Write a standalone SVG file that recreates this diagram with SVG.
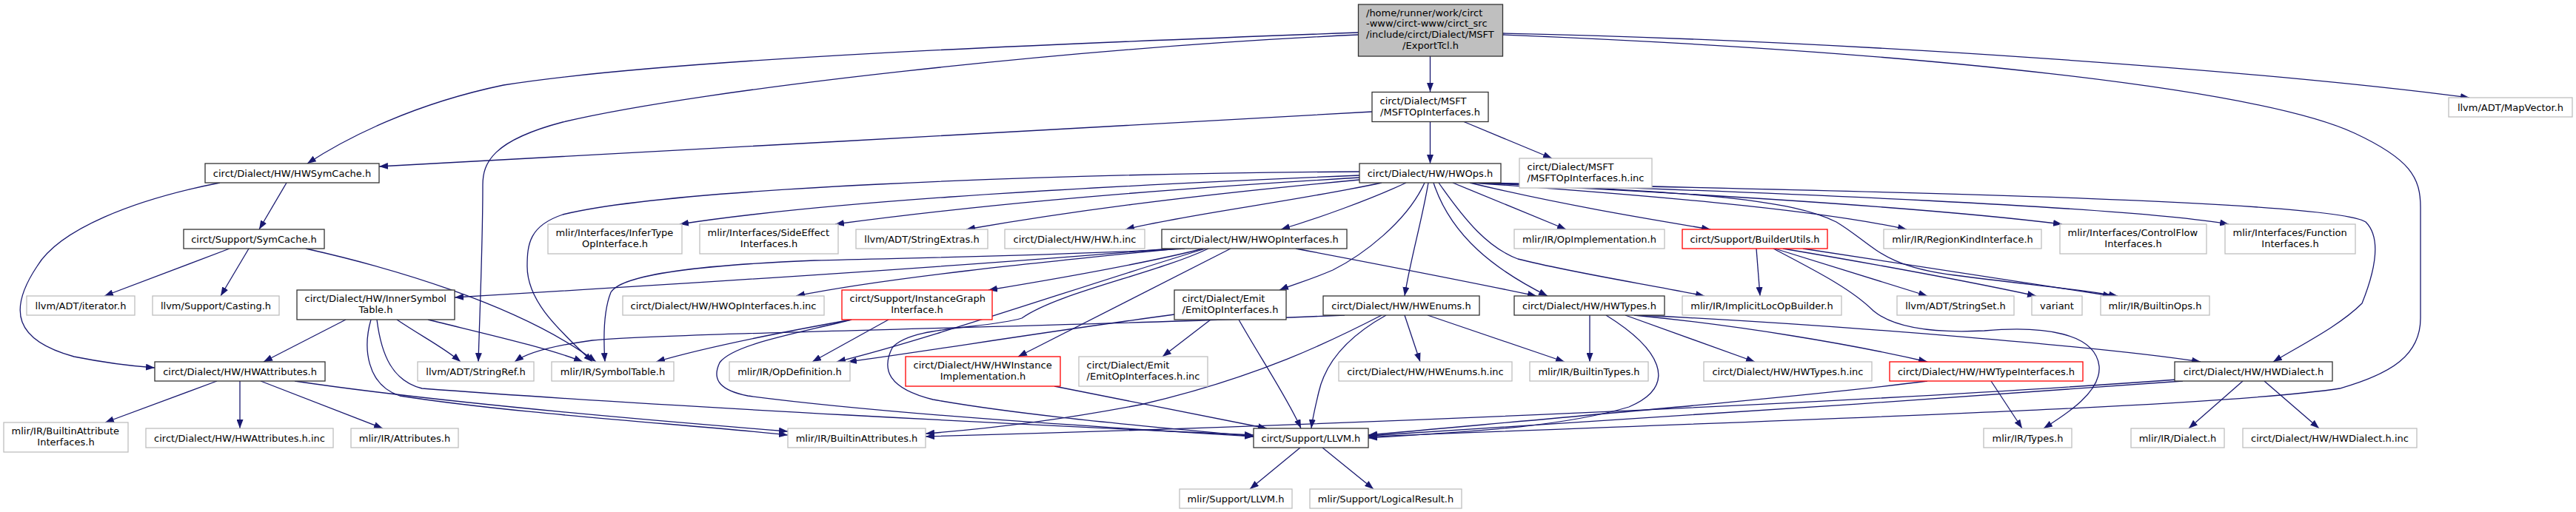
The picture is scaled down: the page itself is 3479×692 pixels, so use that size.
<svg xmlns="http://www.w3.org/2000/svg" width="3479" height="692" viewBox="0 0 3479 692">
<style>
text{font-family:"DejaVu Sans","Liberation Sans",sans-serif;font-size:13px;fill:#000}
.c{text-anchor:middle}
rect{fill:#fff;stroke-width:1.3}
.k{stroke:#333}
.g{stroke:#bfbfbf}
.r{stroke:#ff0000}
.root{fill:#bfbfbf;stroke:#333}
.e{fill:none;stroke:#191970;stroke-width:1.3;marker-end:url(#a)}
</style>
<defs>
<marker id="a" viewBox="0 0 12 9" refX="12" refY="4.5" markerWidth="12" markerHeight="9" markerUnits="userSpaceOnUse" orient="auto">
<path d="M0,0 L12,4.5 L0,9 z" fill="#191970"/>
</marker>
</defs>
<rect x="0" y="0" width="3479" height="692" style="fill:#fff;stroke:none"/>
<g id="edges">
<path class="e" d="M1931.5,76 L1931.5,124"/>
<path class="e" d="M1834,44 C1400,60 900,80 680,115 C560,140 470,185 415,221"/>
<path class="e" d="M1834,47 C1450,65 950,120 760,165 C665,190 652,220 652,250 C652,330 648,420 646,489"/>
<path class="e" d="M2029,45 C2500,55 3050,95 3335,132"/>
<path class="e" d="M2029,47 C2600,70 3050,120 3180,180 C3255,215 3269,240 3269,280 L3269,430 C3269,480 3230,505 3160,525 C3000,550 2400,568 1848,590"/>
<path class="e" d="M1853,151 C1500,170 900,205 512,225"/>
<path class="e" d="M1931.5,164.5 L1931.5,221"/>
<path class="e" d="M1977,164.5 L2096,214"/>
<path class="e" d="M387,247 L350,310"/>
<path class="e" d="M297,247 C180,270 80,310 50,360 C10,420 20,460 100,482 C140,490 180,495 209,497"/>
<path class="e" d="M310,336 L141,400"/>
<path class="e" d="M336,336 L298,400"/>
<path class="e" d="M413,336 C520,360 700,410 805,489"/>
<path class="e" d="M1836,237 C1400,255 1100,275 918,303"/>
<path class="e" d="M1836,240 C1500,260 1300,280 1128,303"/>
<path class="e" d="M1836,243 C1600,265 1450,285 1305,310"/>
<path class="e" d="M1866,247 C1750,272 1600,290 1520,310"/>
<path class="e" d="M1899,247 C1850,270 1780,295 1730,310"/>
<path class="e" d="M1836,232 C1400,235 900,255 760,290 C715,305 712,330 712,360 C712,410 760,450 800,489"/>
<path class="e" d="M1962,247 L2115,310"/>
<path class="e" d="M1985,247 C2100,275 2220,295 2310,310"/>
<path class="e" d="M1988,247 C2200,262 2450,282 2575,310"/>
<path class="e" d="M1992,247 C2300,262 2600,280 2785,303"/>
<path class="e" d="M1995,247 C2400,260 2880,280 3010,303"/>
<path class="e" d="M2000,247 C2500,258 3150,270 3195,300 C3215,320 3210,360 3190,410 C3160,440 3110,465 3070,489"/>
<path class="e" d="M2005,247 C2300,260 2420,270 2480,300 C2530,330 2540,360 2640,372 C2740,385 2800,390 2860,400"/>
<path class="e" d="M1929,247 C1920,300 1905,350 1897,400"/>
<path class="e" d="M1936,247 C1960,320 2020,365 2090,400"/>
<path class="e" d="M1943,247 C1980,300 2010,335 2050,350 C2130,370 2230,385 2302,400"/>
<path class="e" d="M1924,247 C1900,300 1840,345 1800,365 C1770,378 1745,385 1728,392"/>
<path class="e" d="M1750,336 C1850,355 1980,380 2075,400"/>
<path class="e" d="M1581,336 C1300,360 900,385 614,402"/>
<path class="e" d="M1590,336 C1400,355 1200,375 1075,400"/>
<path class="e" d="M1625,336 C1550,355 1420,378 1335,392"/>
<path class="e" d="M1600,336 C1450,345 1250,348 1100,352 C950,358 840,370 825,395 C815,420 815,460 817,489"/>
<path class="e" d="M1632,336 C1560,370 1430,395 1380,430 C1330,445 1230,440 1205,470 C1190,500 1200,525 1260,540 C1400,565 1600,580 1693,590"/>
<path class="e" d="M1628,336 C1450,390 1250,460 1130,489"/>
<path class="e" d="M1662,336 L1375,482"/>
<path class="e" d="M467,432 L356,489"/>
<path class="e" d="M536,432 C570,455 600,470 622,489"/>
<path class="e" d="M578,432 C650,450 740,470 787,489"/>
<path class="e" d="M501,432 C490,470 495,520 540,535 C700,560 950,575 1064,588"/>
<path class="e" d="M509,432 C515,480 530,515 570,525 C900,550 1400,575 1693,588"/>
<path class="e" d="M398,515 C600,545 900,570 1064,583"/>
<path class="e" d="M293,515 L142,571"/>
<path class="e" d="M324,515 L324,579"/>
<path class="e" d="M352,515 L517,579"/>
<path class="e" d="M1586,425 C1400,450 1250,475 1145,489"/>
<path class="e" d="M1635,432 L1570,482"/>
<path class="e" d="M1673,432 C1700,480 1740,540 1757,579"/>
<path class="e" d="M1816,426 C1500,440 900,450 800,460 C740,468 710,478 695,489"/>
<path class="e" d="M1866,426 C1800,460 1700,510 1540,547 C1420,570 1330,580 1250,586"/>
<path class="e" d="M1872,426 C1820,455 1790,490 1781,530 C1775,555 1772,570 1771,579"/>
<path class="e" d="M1897,426 L1918,489"/>
<path class="e" d="M1928,426 L2113,489"/>
<path class="e" d="M2147,426 L2147,489"/>
<path class="e" d="M2169,426 C2240,470 2270,520 2200,550 C2100,580 1950,585 1848,592"/>
<path class="e" d="M2195,426 L2370,489"/>
<path class="e" d="M2207,426 C2350,440 2500,465 2603,489"/>
<path class="e" d="M2215,426 C2500,440 2850,470 2972,489"/>
<path class="e" d="M2689,515 L2731,579"/>
<path class="e" d="M2603,515 C2450,535 2100,565 1848,588"/>
<path class="e" d="M3029,515 L2956,579"/>
<path class="e" d="M3058,515 L3132,579"/>
<path class="e" d="M2948,515 C2600,540 2100,575 1848,589"/>
<path class="e" d="M2940,513 C2500,545 1800,575 1250,590"/>
<path class="e" d="M2372,336 L2377,400"/>
<path class="e" d="M2397,336 L2603,400"/>
<path class="e" d="M2408,336 C2550,360 2680,385 2750,400"/>
<path class="e" d="M2435,336 C2600,360 2760,385 2852,400"/>
<path class="e" d="M2395,336 C2450,365 2500,390 2530,420 C2560,445 2620,450 2680,447 C2760,440 2830,450 2835,495 C2838,530 2790,560 2760,579"/>
<path class="e" d="M1756,605 L1688,661"/>
<path class="e" d="M1786,605 L1855,661"/>
<path class="e" d="M1424,522 L1711,579"/>
<path class="e" d="M1200,432 L1097,489"/>
<path class="e" d="M1150,432 C1050,450 950,470 886,489"/>
<path class="e" d="M1150,432 C1080,450 990,465 972,490 C960,515 975,528 1010,535 C1200,560 1500,578 1693,590"/>
</g>
<g id="n0"><rect class="root" x="1834.5" y="6" width="195" height="70"/><text x="1845" y="21.5">/home/runner/work/circt</text><text x="1845" y="36.3">-www/circt-www/circt_src</text><text x="1845" y="51.1">/include/circt/Dialect/MSFT</text><text class="c" x="1932" y="65.9">/ExportTcl.h</text></g>
<g id="n1"><rect class="k" x="1853" y="124.5" width="157" height="40"/><text x="1863.5" y="140.5">circt/Dialect/MSFT</text><text class="c" x="1931.5" y="155.5">/MSFTOpInterfaces.h</text></g>
<g id="n2"><rect class="g" x="3307" y="132" width="167" height="26"/><text class="c" x="3390.5" y="149.5">llvm/ADT/MapVector.h</text></g>
<g id="n3"><rect class="k" x="277" y="221" width="235" height="26"/><text class="c" x="394.5" y="238.5">circt/Dialect/HW/HWSymCache.h</text></g>
<g id="n4"><rect class="k" x="1836" y="221" width="191" height="26"/><text class="c" x="1931.5" y="238.5">circt/Dialect/HW/HWOps.h</text></g>
<g id="n5"><rect class="g" x="2052" y="214" width="179" height="40"/><text x="2062.5" y="230">circt/Dialect/MSFT</text><text class="c" x="2141.5" y="245">/MSFTOpInterfaces.h.inc</text></g>
<g id="n6"><rect class="k" x="248" y="310" width="190" height="26"/><text class="c" x="343" y="327.5">circt/Support/SymCache.h</text></g>
<g id="n7"><rect class="g" x="740" y="303" width="181" height="40"/><text x="750.5" y="319">mlir/Interfaces/InferType</text><text class="c" x="830.5" y="334">OpInterface.h</text></g>
<g id="n8"><rect class="g" x="945" y="303" width="187" height="40"/><text x="955.5" y="319">mlir/Interfaces/SideEffect</text><text class="c" x="1038.5" y="334">Interfaces.h</text></g>
<g id="n9"><rect class="g" x="1156" y="310" width="178" height="26"/><text class="c" x="1245" y="327.5">llvm/ADT/StringExtras.h</text></g>
<g id="n10"><rect class="g" x="1357" y="310" width="189" height="26"/><text class="c" x="1451.5" y="327.5">circt/Dialect/HW/HW.h.inc</text></g>
<g id="n11"><rect class="k" x="1569" y="310" width="250" height="26"/><text class="c" x="1694" y="327.5">circt/Dialect/HW/HWOpInterfaces.h</text></g>
<g id="n12"><rect class="g" x="2045" y="310" width="203" height="26"/><text class="c" x="2146.5" y="327.5">mlir/IR/OpImplementation.h</text></g>
<g id="n13"><rect class="r" x="2272" y="310" width="196" height="26"/><text class="c" x="2370" y="327.5">circt/Support/BuilderUtils.h</text></g>
<g id="n14"><rect class="g" x="2544" y="310" width="213" height="26"/><text class="c" x="2650.5" y="327.5">mlir/IR/RegionKindInterface.h</text></g>
<g id="n15"><rect class="g" x="2782" y="303" width="198" height="40"/><text x="2792.5" y="319">mlir/Interfaces/ControlFlow</text><text class="c" x="2881" y="334">Interfaces.h</text></g>
<g id="n16"><rect class="g" x="3005" y="303" width="176" height="40"/><text x="3015.5" y="319">mlir/Interfaces/Function</text><text class="c" x="3093" y="334">Interfaces.h</text></g>
<g id="n17"><rect class="g" x="36" y="400" width="146" height="26"/><text class="c" x="109" y="417.5">llvm/ADT/iterator.h</text></g>
<g id="n18"><rect class="g" x="206" y="400" width="171" height="26"/><text class="c" x="291.5" y="417.5">llvm/Support/Casting.h</text></g>
<g id="n19"><rect class="k" x="401" y="392" width="213" height="40"/><text x="411.5" y="408">circt/Dialect/HW/InnerSymbol</text><text class="c" x="507.5" y="423">Table.h</text></g>
<g id="n20"><rect class="g" x="841" y="400" width="272" height="26"/><text class="c" x="977" y="417.5">circt/Dialect/HW/HWOpInterfaces.h.inc</text></g>
<g id="n21"><rect class="r" x="1137" y="392" width="203" height="40"/><text x="1147.5" y="408">circt/Support/InstanceGraph</text><text class="c" x="1238.5" y="423">Interface.h</text></g>
<g id="n22"><rect class="k" x="1586" y="392" width="151" height="40"/><text x="1596.5" y="408">circt/Dialect/Emit</text><text class="c" x="1661.5" y="423">/EmitOpInterfaces.h</text></g>
<g id="n23"><rect class="k" x="1787" y="400" width="211" height="26"/><text class="c" x="1892.5" y="417.5">circt/Dialect/HW/HWEnums.h</text></g>
<g id="n24"><rect class="k" x="2045" y="400" width="203" height="26"/><text class="c" x="2146.5" y="417.5">circt/Dialect/HW/HWTypes.h</text></g>
<g id="n25"><rect class="g" x="2272" y="400" width="215" height="26"/><text class="c" x="2379.5" y="417.5">mlir/IR/ImplicitLocOpBuilder.h</text></g>
<g id="n26"><rect class="g" x="2562" y="400" width="158" height="26"/><text class="c" x="2641" y="417.5">llvm/ADT/StringSet.h</text></g>
<g id="n27"><rect class="g" x="2744" y="400" width="68" height="26"/><text class="c" x="2778" y="417.5">variant</text></g>
<g id="n28"><rect class="g" x="2837" y="400" width="147" height="26"/><text class="c" x="2910.5" y="417.5">mlir/IR/BuiltinOps.h</text></g>
<g id="n29"><rect class="k" x="209" y="489" width="230" height="26"/><text class="c" x="324" y="506.5">circt/Dialect/HW/HWAttributes.h</text></g>
<g id="n30"><rect class="g" x="564" y="489" width="157" height="26"/><text class="c" x="642.5" y="506.5">llvm/ADT/StringRef.h</text></g>
<g id="n31"><rect class="g" x="745" y="489" width="165" height="26"/><text class="c" x="827.5" y="506.5">mlir/IR/SymbolTable.h</text></g>
<g id="n32"><rect class="g" x="985" y="489" width="163" height="26"/><text class="c" x="1066.5" y="506.5">mlir/IR/OpDefinition.h</text></g>
<g id="n33"><rect class="r" x="1223" y="482" width="209" height="40"/><text x="1233.5" y="498">circt/Dialect/HW/HWInstance</text><text class="c" x="1327.5" y="513">Implementation.h</text></g>
<g id="n34"><rect class="g" x="1457" y="482" width="174" height="40"/><text x="1467.5" y="498">circt/Dialect/Emit</text><text class="c" x="1544" y="513">/EmitOpInterfaces.h.inc</text></g>
<g id="n35"><rect class="g" x="1808" y="489" width="234" height="26"/><text class="c" x="1925" y="506.5">circt/Dialect/HW/HWEnums.h.inc</text></g>
<g id="n36"><rect class="g" x="2066" y="489" width="160" height="26"/><text class="c" x="2146" y="506.5">mlir/IR/BuiltinTypes.h</text></g>
<g id="n37"><rect class="g" x="2301" y="489" width="227" height="26"/><text class="c" x="2414.5" y="506.5">circt/Dialect/HW/HWTypes.h.inc</text></g>
<g id="n38"><rect class="r" x="2552" y="489" width="261" height="26"/><text class="c" x="2682.5" y="506.5">circt/Dialect/HW/HWTypeInterfaces.h</text></g>
<g id="n39"><rect class="k" x="2937" y="489" width="213" height="26"/><text class="c" x="3043.5" y="506.5">circt/Dialect/HW/HWDialect.h</text></g>
<g id="n40"><rect class="g" x="5" y="571" width="168" height="40"/><text x="15.5" y="587">mlir/IR/BuiltinAttribute</text><text class="c" x="89" y="602">Interfaces.h</text></g>
<g id="n41"><rect class="g" x="197" y="579" width="253" height="26"/><text class="c" x="323.5" y="596.5">circt/Dialect/HW/HWAttributes.h.inc</text></g>
<g id="n42"><rect class="g" x="474" y="579" width="145" height="26"/><text class="c" x="546.5" y="596.5">mlir/IR/Attributes.h</text></g>
<g id="n43"><rect class="g" x="1064" y="579" width="186" height="26"/><text class="c" x="1157" y="596.5">mlir/IR/BuiltinAttributes.h</text></g>
<g id="n44"><rect class="k" x="1693" y="579" width="155" height="26"/><text class="c" x="1770.5" y="596.5">circt/Support/LLVM.h</text></g>
<g id="n45"><rect class="g" x="2679" y="579" width="119" height="26"/><text class="c" x="2738.5" y="596.5">mlir/IR/Types.h</text></g>
<g id="n46"><rect class="g" x="2878" y="579" width="126" height="26"/><text class="c" x="2941" y="596.5">mlir/IR/Dialect.h</text></g>
<g id="n47"><rect class="g" x="3029" y="579" width="235" height="26"/><text class="c" x="3146.5" y="596.5">circt/Dialect/HW/HWDialect.h.inc</text></g>
<g id="n48"><rect class="g" x="1593" y="661" width="152" height="26"/><text class="c" x="1669" y="678.5">mlir/Support/LLVM.h</text></g>
<g id="n49"><rect class="g" x="1769" y="661" width="205" height="26"/><text class="c" x="1871.5" y="678.5">mlir/Support/LogicalResult.h</text></g>
</svg>
